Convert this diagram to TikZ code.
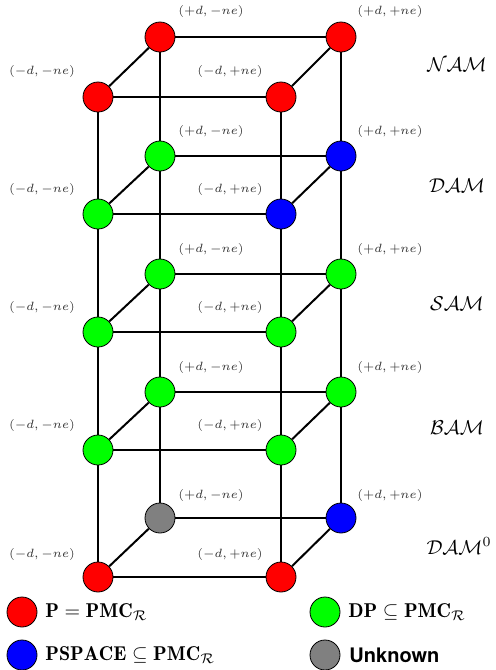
\documentclass[tikz,border=0pt]{standalone}
\usepackage{amsmath}
\usepackage{amssymb}
\usepackage{fontspec}
\newfontfamily\unkfont{TeX Gyre Heros}
\begin{document}
\begin{tikzpicture}[x=0.5pt,y=-0.5pt]
		\tikzstyle{every node}+=[inner sep=0pt]
		\tikzstyle{state}=[circle,draw=black,line width=0.4pt,minimum size=15pt]
		\tikzstyle{edge}=[black,line width=1pt]
		\tikzstyle{pairlabel}=[font=\fontsize{5.8}{7}\selectfont,text=black!80]
		\tikzstyle{layername}=[font=\normalsize]
		\useasboundingbox (0,0) rectangle (495,670);
		% NAM
		\node [state,fill=red] (nam-pm) at (160,37) {};
		\node [state,fill=red] (nam-pp) at (341,37) {};
		\node [state,fill=red] (nam-mm) at (98,97) {};
		\node [state,fill=red] (nam-mp) at (281,97) {};
		% DAM
		\node [state,fill=green] (dam-pm) at (160,156) {};
		\node [state,fill=blue] (dam-pp) at (341,156) {};
		\node [state,fill=green] (dam-mm) at (98,214) {};
		\node [state,fill=blue] (dam-mp) at (281,214) {};
		% SAM
		\node [state,fill=green] (sam-pm) at (160,274) {};
		\node [state,fill=green] (sam-pp) at (341,274) {};
		\node [state,fill=green] (sam-mm) at (98,332) {};
		\node [state,fill=green] (sam-mp) at (281,332) {};
		% BAM
		\node [state,fill=green] (bam-pm) at (160,392) {};
		\node [state,fill=green] (bam-pp) at (341,392) {};
		\node [state,fill=green] (bam-mm) at (98,450) {};
		\node [state,fill=green] (bam-mp) at (281,450) {};
		% DAM^0
		\node [state,fill=gray] (dz-pm) at (160,518) {};
		\node [state,fill=blue] (dz-pp) at (341,518) {};
		\node [state,fill=red] (dz-mm) at (98,577) {};
		\node [state,fill=red] (dz-mp) at (281,577) {};
		% edges of each layer
		\draw [edge] (nam-pm) -- (nam-pp);
		\draw [edge] (nam-mm) -- (nam-mp);
		\draw [edge] (nam-mm) -- (nam-pm);
		\draw [edge] (nam-mp) -- (nam-pp);
		\draw [edge] (dam-pm) -- (dam-pp);
		\draw [edge] (dam-mm) -- (dam-mp);
		\draw [edge] (dam-mm) -- (dam-pm);
		\draw [edge] (dam-mp) -- (dam-pp);
		\draw [edge] (sam-pm) -- (sam-pp);
		\draw [edge] (sam-mm) -- (sam-mp);
		\draw [edge] (sam-mm) -- (sam-pm);
		\draw [edge] (sam-mp) -- (sam-pp);
		\draw [edge] (bam-pm) -- (bam-pp);
		\draw [edge] (bam-mm) -- (bam-mp);
		\draw [edge] (bam-mm) -- (bam-pm);
		\draw [edge] (bam-mp) -- (bam-pp);
		\draw [edge] (dz-pm) -- (dz-pp);
		\draw [edge] (dz-mm) -- (dz-mp);
		\draw [edge] (dz-mm) -- (dz-pm);
		\draw [edge] (dz-mp) -- (dz-pp);
		% verticals
		\draw [edge] (nam-pm) -- (dam-pm) -- (sam-pm) -- (bam-pm) -- (dz-pm);
		\draw [edge] (nam-pp) -- (dam-pp) -- (sam-pp) -- (bam-pp) -- (dz-pp);
		\draw [edge] (nam-mm) -- (dam-mm) -- (sam-mm) -- (bam-mm) -- (dz-mm);
		\draw [edge] (nam-mp) -- (dam-mp) -- (sam-mp) -- (bam-mp) -- (dz-mp);
		% pair labels
		\node [pairlabel] (nam-pm-l) at (211,11) {$(+d, -ne)$};
		\node [pairlabel] (nam-pp-l) at (390,11) {$(+d, +ne)$};
		\node [pairlabel] (nam-mm-l) at (42,71) {$(-d, -ne)$};
		\node [pairlabel] (nam-mp-l) at (230,71) {$(-d, +ne)$};
		\node [pairlabel] (dam-pm-l) at (211,131) {$(+d, -ne)$};
		\node [pairlabel] (dam-pp-l) at (390,131) {$(+d, +ne)$};
		\node [pairlabel] (dam-mm-l) at (42,189) {$(-d, -ne)$};
		\node [pairlabel] (dam-mp-l) at (230,189) {$(-d, +ne)$};
		\node [pairlabel] (sam-pm-l) at (211,249) {$(+d, -ne)$};
		\node [pairlabel] (sam-pp-l) at (390,249) {$(+d, +ne)$};
		\node [pairlabel] (sam-mm-l) at (42,307) {$(-d, -ne)$};
		\node [pairlabel] (sam-mp-l) at (230,307) {$(-d, +ne)$};
		\node [pairlabel] (bam-pm-l) at (211,367) {$(+d, -ne)$};
		\node [pairlabel] (bam-pp-l) at (390,367) {$(+d, +ne)$};
		\node [pairlabel] (bam-mm-l) at (42,425) {$(-d, -ne)$};
		\node [pairlabel] (bam-mp-l) at (230,425) {$(-d, +ne)$};
		\node [pairlabel] (dz-pm-l) at (211,495) {$(+d, -ne)$};
		\node [pairlabel] (dz-pp-l) at (390,495) {$(+d, +ne)$};
		\node [pairlabel] (dz-mm-l) at (42,554) {$(-d, -ne)$};
		\node [pairlabel] (dz-mp-l) at (230,554) {$(-d, +ne)$};
		% layer names
		\node [layername] (nam-name) at (457,65) {$\mathcal{NAM}$};
		\node [layername] (dam-name) at (457,186) {$\mathcal{DAM}$};
		\node [layername] (sam-name) at (457,304) {$\mathcal{SAM}$};
		\node [layername] (bam-name) at (457,428) {$\mathcal{BAM}$};
		\node [layername] (dz-name) at (459,546) {$\mathcal{DAM}^0$};
		% legend
		\node [state,fill=red] (leg-p) at (22,612) {};
		\node [anchor=west] (leg-p-t) at (45,612) {$\mathbf{P} = \mathbf{PMC}_{\mathcal{R}}$};
		\node [state,fill=green] (leg-dp) at (325,612) {};
		\node [anchor=west] (leg-dp-t) at (348,612) {$\mathbf{DP} \subseteq \mathbf{PMC}_{\mathcal{R}}$};
		\node [state,fill=blue] (leg-ps) at (22,655) {};
		\node [anchor=west] (leg-ps-t) at (45,655) {$\mathbf{PSPACE} \subseteq \mathbf{PMC}_{\mathcal{R}}$};
		\node [state,fill=gray] (leg-u) at (325,655) {};
		\node [anchor=west] (leg-u-t) at (349,655) {\unkfont\bfseries Unknown};
	\end{tikzpicture}
\end{document}
